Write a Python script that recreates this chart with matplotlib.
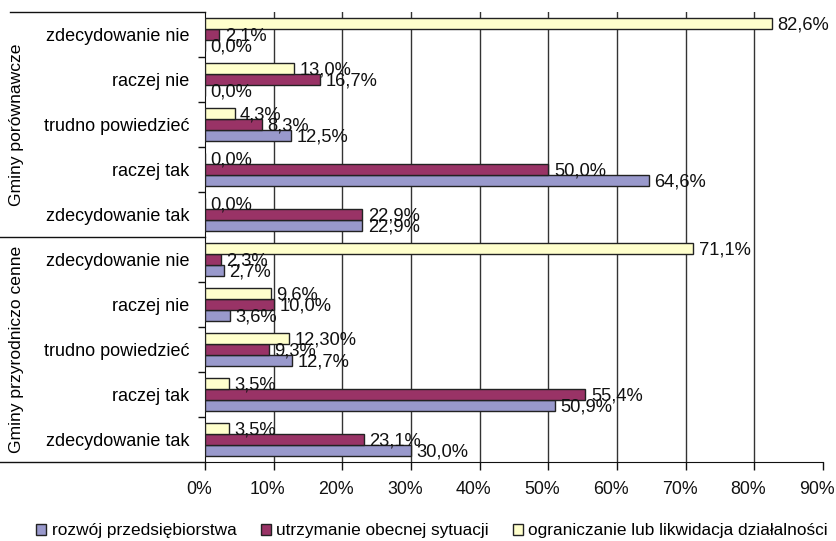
import matplotlib
matplotlib.use("Agg")
import matplotlib.pyplot as plt
import matplotlib.transforms as mtransforms
from matplotlib.patches import Patch
import numpy as np

plt.rcParams['font.family'] = ['Liberation Sans', 'DejaVu Sans']

# categories, bottom to top within each group
answers = ["zdecydowanie tak", "raczej tak", "trudno powiedzieć", "raczej nie", "zdecydowanie nie"]
groups = ["Gminy przyrodniczo cenne", "Gminy porównawcze"]
series_names = ["rozwój przedsiębiorstwa", "utrzymanie obecnej sytuacji",
                "ograniczanie lub likwidacja działalności"]

# values: przyrodniczo cenne (bottom group) then porównawcze (top group)
rozwoj = [30.0, 50.9, 12.7, 3.6, 2.7, 22.9, 64.6, 12.5, 0.0, 0.0]
utrzymanie = [23.1, 55.4, 9.3, 10.0, 2.3, 22.9, 50.0, 8.3, 16.7, 2.1]
ograniczanie = [3.5, 3.5, 12.3, 9.6, 71.1, 0.0, 0.0, 4.3, 13.0, 82.6]

rozwoj_labels = ["30,0%", "50,9%", "12,7%", "3,6%", "2,7%", "22,9%", "64,6%", "12,5%", "0,0%", "0,0%"]
utrzymanie_labels = ["23,1%", "55,4%", "9,3%", "10,0%", "2,3%", "22,9%", "50,0%", "8,3%", "16,7%", "2,1%"]
ograniczanie_labels = ["3,5%", "3,5%", "12,30%", "9,6%", "71,1%", "0,0%", "0,0%", "4,3%", "13,0%", "82,6%"]

x_ticks = [0, 10, 20, 30, 40, 50, 60, 70, 80, 90]
x_tick_labels = ["0%", "10%", "20%", "30%", "40%", "50%", "60%", "70%", "80%", "90%"]

colors = ["#9999CC", "#993366", "#FFFFCC"]

W, H = 837, 541
fig = plt.figure(figsize=(W / 100, H / 100), dpi=100)
ax = fig.add_axes([205 / W, 1 - 462 / H, 618 / W, 450 / H])

n = len(rozwoj)
y = np.arange(n)
bh = 0.235
off = 0.243
all_vals = [rozwoj, utrzymanie, ograniczanie]
all_labels = [rozwoj_labels, utrzymanie_labels, ograniczanie_labels]
for i, (vals, labs, c) in enumerate(zip(all_vals, all_labels, colors)):
    pos = y + (i - 1) * off
    ax.barh(pos, vals, height=bh, color=c, edgecolor="#222222", linewidth=1.0, zorder=3)
    for p, v, lab in zip(pos, vals, labs):
        ax.annotate(lab, xy=(v, p), xytext=(4.0, -1.0), textcoords="offset points",
                    ha="left", va="center", fontsize=13.2, color="#111111", zorder=4)

for gx in x_ticks[1:-1]:
    ax.axvline(gx, color="#333333", linewidth=1.0, zorder=1)

ax.set_xlim(0, 90)
ax.set_ylim(-0.5, n - 0.5)
ax.set_xticks(x_ticks)
ax.set_xticklabels(x_tick_labels, fontsize=12.8)
ax.tick_params(axis="x", length=6, width=1, direction="out", pad=8, colors="#111111")
for lab in ax.get_xticklabels():
    lab.set_transform(lab.get_transform() + mtransforms.ScaledTranslation(-6 / 100, 0, fig.dpi_scale_trans))

ax.set_yticks(y)
ax.set_yticklabels(answers * 2, fontsize=13.0)
ax.tick_params(axis="y", which="major", length=0, pad=11)
boundaries = [b + 0.5 for b in range(n - 1) if b != 4]
ax.set_yticks(boundaries, minor=True)
ax.tick_params(axis="y", which="minor", length=5, width=1, direction="out", color="#111111")

for s in ["top", "right"]:
    ax.spines[s].set_visible(False)
ax.spines["left"].set_color("#111111")
ax.spines["bottom"].set_color("#111111")

blend = mtransforms.blended_transform_factory(ax.transAxes, ax.transData)
ax_w = 618
ax.plot([-195 / ax_w, 0], [n - 0.5, n - 0.5], transform=blend, color="#111111", lw=1, clip_on=False)
ax.plot([-205 / ax_w, 0], [4.5, 4.5], transform=blend, color="#111111", lw=1, clip_on=False)
ax.plot([-205 / ax_w, 0], [-0.5, -0.5], transform=blend, color="#111111", lw=1, clip_on=False)

# group labels
ax.text(-188 / ax_w, 7.0, groups[1], transform=blend, rotation=90, ha="center", va="center", fontsize=12.6)
ax.text(-188 / ax_w, 2.0, groups[0], transform=blend, rotation=90, ha="center", va="center", fontsize=12.6)

handles = [Patch(facecolor=c, edgecolor="#222222", linewidth=1.0) for c in colors]
fig.legend(handles, series_names, loc="center", bbox_to_anchor=(432 / W, 1 - 531 / H), ncol=3,
           frameon=False, fontsize=12.4, handlelength=0.6, handleheight=0.6, handletextpad=0.3,
           columnspacing=1.4, borderpad=0)

fig.savefig("out.png", dpi=100)
